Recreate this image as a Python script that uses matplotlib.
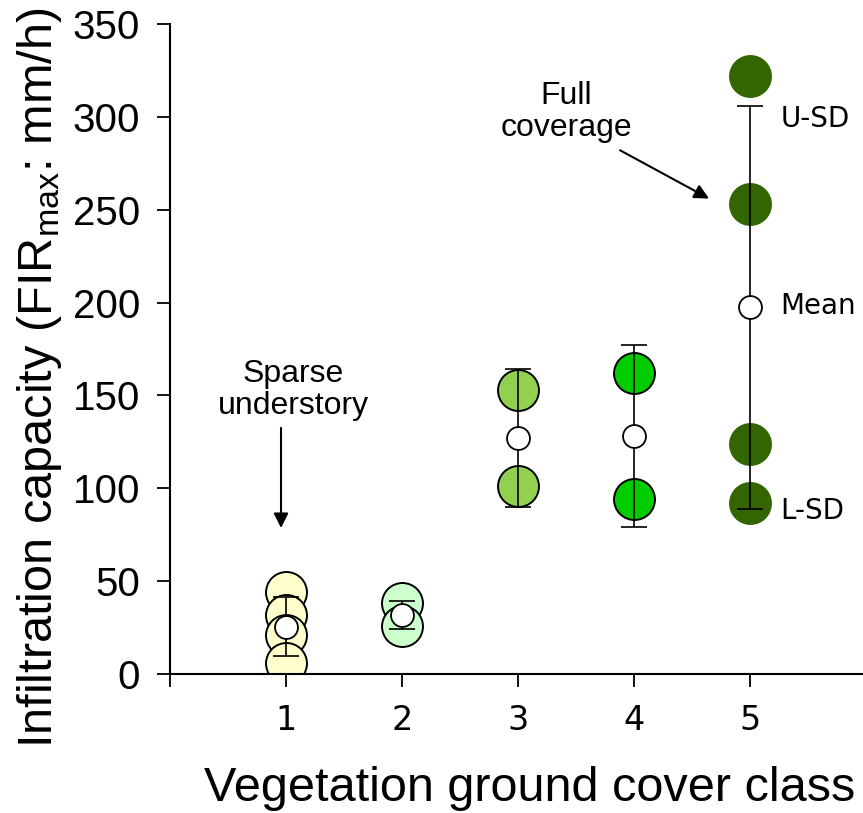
import matplotlib
matplotlib.use("Agg")
import matplotlib.pyplot as plt

# mathtext in the same face as the labels
plt.rcParams["mathtext.fontset"] = "custom"
plt.rcParams["mathtext.rm"] = "Liberation Sans"
plt.rcParams["mathtext.it"] = "Liberation Sans:italic"

# measured values per vegetation class
classes = [1, 2, 3, 4, 5]
class_values = [
    [44, 32, 21, 6],
    [38, 26],
    [153, 101],
    [162, 94],
    [322, 253, 124, 92],
]
class_colors = ["#FFFFCC", "#CCFFCC", "#92D050", "#00CC00", "#336600"]
means = [25.5, 32, 127, 128, 197.5]
sds = [16, 7.5, 37, 49, 108.5]

fig = plt.figure(figsize=(8.63, 8.13), dpi=100)
ax = fig.add_axes([170 / 863, 139 / 813, 696 / 863, 650 / 813])

# individual measurements
for c, vals, col in zip(classes, class_values, class_colors):
    edge = col if c == 5 else "black"
    ax.plot([c] * len(vals), vals, "o", ms=29.5, mfc=col, mec=edge, mew=1.4,
            linestyle="none", zorder=2)

# mean +/- SD
ax.errorbar(classes, means, yerr=sds, fmt="none", ecolor="black",
            elinewidth=1.2, capsize=9.5, capthick=1.2, zorder=3)
ax.plot(classes, means, "o", ms=16.5, mfc="white", mec="black", mew=1.3,
        linestyle="none", zorder=4)

ax.set_xlim(0, 6)
ax.set_ylim(0, 350)
ax.set_xticks([0, 1, 2, 3, 4, 5])
ax.set_xticklabels(["", "1", "2", "3", "4", "5"], fontfamily="DejaVu Sans",
                   fontsize=24)
ax.set_yticks(range(0, 351, 50))
ax.set_yticklabels([str(v) for v in range(0, 351, 50)],
                   fontfamily="Liberation Sans", fontsize=29)
ax.tick_params(axis="both", direction="out", length=9.5, width=1.3)
ax.tick_params(axis="y", pad=12)
ax.tick_params(axis="x", pad=12)

for side in ["top", "right"]:
    ax.spines[side].set_visible(False)
for side in ["left", "bottom"]:
    ax.spines[side].set_linewidth(1.5)

ax.set_xlabel("Vegetation ground cover class", fontfamily="Liberation Sans",
              fontsize=35)
ax.xaxis.set_label_coords(0.516, -0.141)
ax.set_ylabel(r"Infiltration capacity (FIR$_{\mathrm{max}}$: mm/h)",
              fontfamily="Liberation Sans", fontsize=35)
ax.yaxis.set_label_coords(-0.152, 0.455)

# annotations
ax.text(1.06, 153, "Sparse\nunderstory", ha="center", va="center",
        fontfamily="Liberation Sans", fontsize=23, linespacing=1.1)
ax.annotate("", xy=(0.957, 78.6), xytext=(0.957, 132.5),
            arrowprops=dict(arrowstyle="-|>", color="black", lw=1.5,
                            mutation_scale=22, shrinkA=0, shrinkB=0))
ax.text(3.414, 302.6, "Full\ncoverage", ha="center", va="center",
        fontfamily="Liberation Sans", fontsize=23, linespacing=1.1)
ax.annotate("", xy=(4.647, 256), xytext=(3.88, 282),
            arrowprops=dict(arrowstyle="-|>", color="black", lw=1.5,
                            mutation_scale=22, shrinkA=0, shrinkB=0))

for label, yv in [("U-SD", 299), ("Mean", 198), ("L-SD", 88)]:
    ax.text(5.26, yv, label, ha="left", va="center",
            fontfamily="DejaVu Sans", fontsize=20)

fig.savefig("out.png", dpi=100)
